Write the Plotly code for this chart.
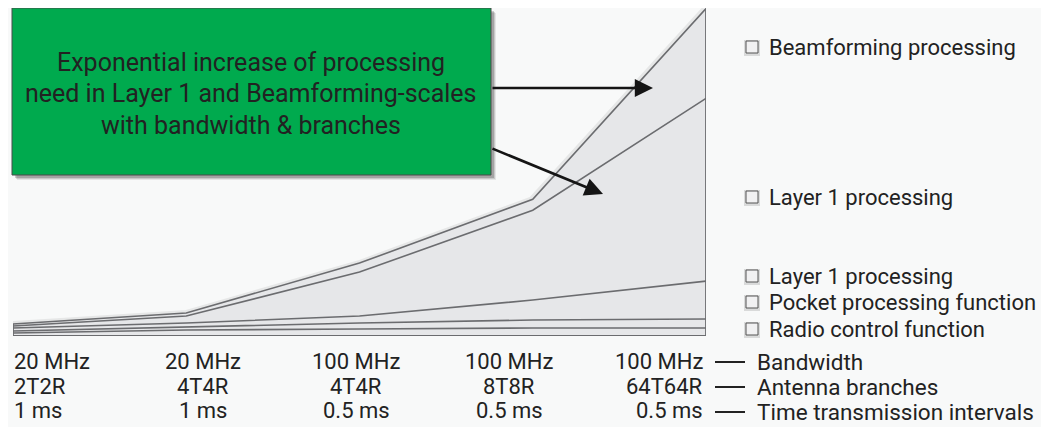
import plotly.graph_objects as go

# ---- data (arbitrary units) ----
steps = [0, 1, 2, 3, 4]
bandwidth = ["20 MHz", "20 MHz", "100 MHz", "100 MHz", "100 MHz"]
antennas = ["2T2R", "4T4R", "4T4R", "8T8R", "64T64R"]
tti = ["1 ms", "1 ms", "0.5 ms", "0.5 ms", "0.5 ms"]

radio_control = [3, 6, 7, 8, 8]
packet_processing = [2, 3, 6, 8, 9]
layer1_low = [3, 4, 7, 20, 38]
layer1 = [2, 7, 44, 90, 183]
beamforming = [2, 3, 9, 11, 90]

series_names = ["Radio control function", "Pocket processing function",
                "Layer 1 processing", "Layer 1 processing", "Beamforming processing"]
series_values = [radio_control, packet_processing, layer1_low, layer1, beamforming]

row_titles = ["Bandwidth", "Antenna branches", "Time transmission intervals"]
box_text = ["Exponential increase of processing",
            "need in Layer 1 and Beamforming-scales",
            "with bandwidth & branches"]

# ---- layout geometry (page pixels; the page body has an 8px margin) ----
OFF = 8
W, H = 1049 - OFF, 427 - OFF
PL, PR, PT, PB = 13, 706, 8, 336          # plot area in page pixels
ML, MR, MT, MB = PL - OFF, 1049 - PR, PT - OFF, 427 - PB
PW, PH = PR - PL, PB - PT

def px(x):
    return (x - PL) / PW

def py(y):
    return (PB - y) / PH

FONT = "Roboto"
TXT = "#222222"
FILL = "#e6e7e9"
LINE = "#6b6c6f"
BG = "#f8f9f9"

fig = go.Figure()

totals = [sum(v) for v in zip(*series_values)]

# soft shadow under the outline
fig.add_trace(go.Scatter(x=steps, y=[t - 2 for t in totals], mode="lines",
                         line=dict(color="rgba(0,0,0,0.07)", width=10),
                         hoverinfo="skip", showlegend=False))

for name, vals in zip(series_names, series_values):
    fig.add_trace(go.Scatter(
        x=steps, y=vals, name=name, stackgroup="one", mode="lines",
        line=dict(color=LINE, width=1.6), fillcolor=FILL, showlegend=False,
    ))

shapes = []
# outline edges (from data)
shapes.append(dict(type="line", xref="x", yref="y", x0=4, x1=4, y0=0, y1=totals[-1],
                   line=dict(color=LINE, width=1.8)))
shapes.append(dict(type="line", xref="x", yref="y", x0=0, x1=0, y0=0, y1=totals[0],
                   line=dict(color=LINE, width=1.8)))
shapes.append(dict(type="line", xref="x", yref="y", x0=0, x1=4, y0=0, y1=0,
                   line=dict(color=LINE, width=1.8)))

# green box with shadow
for off, a in [(5, 0.08), (4, 0.12), (3, 0.18)]:
    shapes.append(dict(type="rect", xref="paper", yref="paper",
                       x0=px(12 + off), x1=px(491 + off), y0=py(175 + off), y1=py(8 + off),
                       fillcolor=f"rgba(0,0,0,{a})", line=dict(width=0), layer="above"))
shapes.append(dict(type="rect", xref="paper", yref="paper",
                   x0=px(12), x1=px(491), y0=py(175), y1=py(8),
                   fillcolor="#00aa4e", line=dict(color="#4a4a4a", width=1), layer="above"))

annotations = []
for t, yc in zip(box_text, [62, 93, 125]):
    annotations.append(dict(x=px(251), y=py(yc), xref="paper", yref="paper", text=t,
                            showarrow=False, xanchor="center", yanchor="middle",
                            font=dict(family=FONT, size=25, color=TXT)))

# arrows
annotations.append(dict(x=px(653), y=py(88), xref="paper", yref="paper", ax=-162, ay=0,
                        showarrow=True, arrowhead=2, arrowsize=1.4, arrowwidth=2.6,
                        arrowcolor="#151515", text=""))
annotations.append(dict(x=px(603), y=py(194), xref="paper", yref="paper", ax=-112, ay=-46,
                        showarrow=True, arrowhead=2, arrowsize=1.4, arrowwidth=2.6,
                        arrowcolor="#151515", text=""))

# category labels (three rows)
label_x = [40, 203, 356, 509, 660]
rows = [bandwidth, antennas, tti]
row_y = [361, 386, 410]
for row, yc in zip(rows, row_y):
    for i, t in enumerate(row):
        if i == 0:
            xa, xx = "left", 12
        elif i == len(row) - 1:
            xa, xx = "right", 705
        else:
            xa, xx = "center", label_x[i]
        annotations.append(dict(x=px(xx), y=py(yc), xref="paper", yref="paper", text=t,
                                showarrow=False, xanchor=xa, yanchor="middle",
                                font=dict(family=FONT, size=22, color=TXT)))

for t, yc in zip(row_titles, [362, 387, 412]):
    shapes.append(dict(type="line", xref="paper", yref="paper", x0=px(715), x1=px(745),
                       y0=py(yc), y1=py(yc), line=dict(color="#222", width=2)))
    annotations.append(dict(x=px(755), y=py(yc), xref="paper", yref="paper", text=t,
                            showarrow=False, xanchor="left", yanchor="middle",
                            font=dict(family=FONT, size=22.5, color=TXT)))

# legend (custom, aligned with the layers)
legend_y = [47, 197, 276, 302, 329]
legend_names = series_names[::-1]
for t, yc in zip(legend_names, legend_y):
    x0, x1, y0, y1 = 746, 758, yc - 6, yc + 6
    shapes.append(dict(type="rect", xref="paper", yref="paper",
                       x0=px(x0 - 2), x1=px(x1 + 2), y0=py(y1 + 3), y1=py(y0 - 1),
                       fillcolor="rgba(0,0,0,0.12)", line=dict(width=0)))
    shapes.append(dict(type="rect", xref="paper", yref="paper",
                       x0=px(x0), x1=px(x1), y0=py(y1), y1=py(y0),
                       fillcolor="#f1f1f2", line=dict(color="#555", width=1)))
    annotations.append(dict(x=px(767), y=py(yc), xref="paper", yref="paper", text=t,
                            showarrow=False, xanchor="left", yanchor="middle",
                            font=dict(family=FONT, size=22, color=TXT)))

fig.update_layout(
    width=W, height=H, autosize=False,
    margin=dict(l=ML, r=MR, t=MT, b=MB, pad=0),
    paper_bgcolor=BG, plot_bgcolor=BG,
    xaxis=dict(range=[0, 4], visible=False, fixedrange=True),
    yaxis=dict(range=[0, 328.5], visible=False, fixedrange=True),
    shapes=shapes, annotations=annotations, showlegend=False,
)

fig.write_html("out.html")
